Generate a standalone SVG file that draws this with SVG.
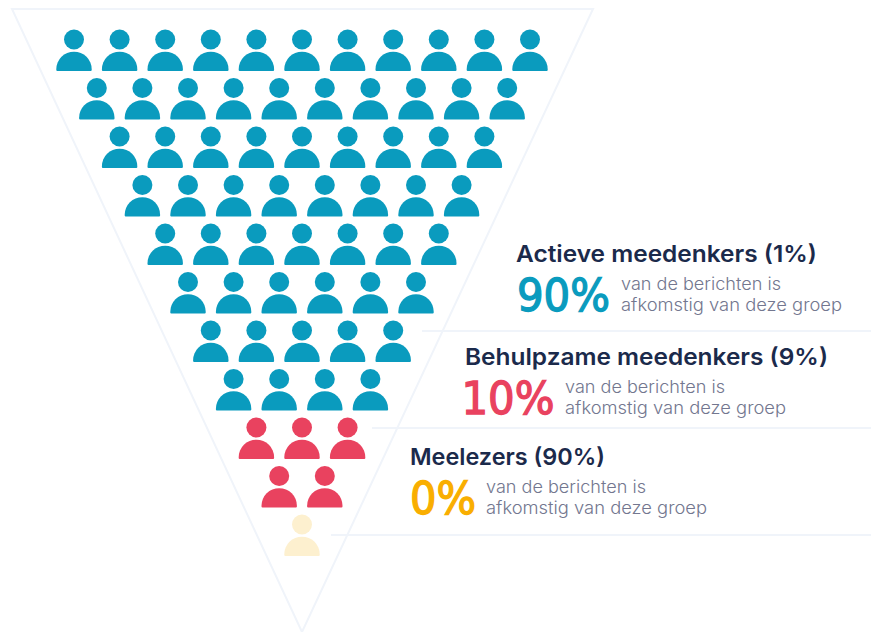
<svg xmlns="http://www.w3.org/2000/svg" width="871" height="632" viewBox="0 0 871 632">
<style>
.title{font-family:"Inter","Liberation Sans",sans-serif;font-size:23px;font-weight:600;fill:#1b2a4b}
.pct{font-family:"DejaVu Sans","Liberation Sans",sans-serif;font-size:44.5px;font-weight:400;stroke-width:1.4}
.sub{font-family:"Inter","Liberation Sans",sans-serif;font-size:17px;font-weight:300;fill:#73778f}
.rule{stroke:#f0f4fa;stroke-width:2;fill:none}
.t{fill:#0a9bbe}.r{fill:#e9425f}.y{fill:#fdf0cf}
</style>
<defs>
<g id="p"><circle cx="0" cy="0" r="10"/><path d="M-17.7 29.7A17.7 17.5 0 0 1 17.7 29.7V30.6Q17.7 31.5 16.7 31.5H-16.7Q-17.7 31.5 -17.7 30.6Z"/></g>
</defs>
<g id="connectors">
<path class="rule" d="M12 9H593L302 632Z"/>
<path class="rule" d="M422 331H871M372 428H871M331 535H871"/>
</g>
<g id="row1" class="t">
<use href="#p" x="74" y="39.5"/><use href="#p" x="119.6" y="39.5"/><use href="#p" x="165.2" y="39.5"/><use href="#p" x="210.8" y="39.5"/><use href="#p" x="256.4" y="39.5"/><use href="#p" x="302" y="39.5"/><use href="#p" x="347.6" y="39.5"/><use href="#p" x="393.2" y="39.5"/><use href="#p" x="438.8" y="39.5"/><use href="#p" x="484.4" y="39.5"/><use href="#p" x="530" y="39.5"/>
</g>
<g id="row2" class="t">
<use href="#p" x="96.8" y="88"/><use href="#p" x="142.4" y="88"/><use href="#p" x="188" y="88"/><use href="#p" x="233.6" y="88"/><use href="#p" x="279.2" y="88"/><use href="#p" x="324.8" y="88"/><use href="#p" x="370.4" y="88"/><use href="#p" x="416" y="88"/><use href="#p" x="461.6" y="88"/><use href="#p" x="507.2" y="88"/>
</g>
<g id="row3" class="t">
<use href="#p" x="119.6" y="136.5"/><use href="#p" x="165.2" y="136.5"/><use href="#p" x="210.8" y="136.5"/><use href="#p" x="256.4" y="136.5"/><use href="#p" x="302" y="136.5"/><use href="#p" x="347.6" y="136.5"/><use href="#p" x="393.2" y="136.5"/><use href="#p" x="438.8" y="136.5"/><use href="#p" x="484.4" y="136.5"/>
</g>
<g id="row4" class="t">
<use href="#p" x="142.4" y="185"/><use href="#p" x="188" y="185"/><use href="#p" x="233.6" y="185"/><use href="#p" x="279.2" y="185"/><use href="#p" x="324.8" y="185"/><use href="#p" x="370.4" y="185"/><use href="#p" x="416" y="185"/><use href="#p" x="461.6" y="185"/>
</g>
<g id="row5" class="t">
<use href="#p" x="165.2" y="233.5"/><use href="#p" x="210.8" y="233.5"/><use href="#p" x="256.4" y="233.5"/><use href="#p" x="302" y="233.5"/><use href="#p" x="347.6" y="233.5"/><use href="#p" x="393.2" y="233.5"/><use href="#p" x="438.8" y="233.5"/>
</g>
<g id="row6" class="t">
<use href="#p" x="188" y="282"/><use href="#p" x="233.6" y="282"/><use href="#p" x="279.2" y="282"/><use href="#p" x="324.8" y="282"/><use href="#p" x="370.4" y="282"/><use href="#p" x="416" y="282"/>
</g>
<g id="row7" class="t">
<use href="#p" x="210.8" y="330.5"/><use href="#p" x="256.4" y="330.5"/><use href="#p" x="302" y="330.5"/><use href="#p" x="347.6" y="330.5"/><use href="#p" x="393.2" y="330.5"/>
</g>
<g id="row8" class="t">
<use href="#p" x="233.6" y="379"/><use href="#p" x="279.2" y="379"/><use href="#p" x="324.8" y="379"/><use href="#p" x="370.4" y="379"/>
</g>
<g id="row9" class="r">
<use href="#p" x="256.4" y="427.5"/><use href="#p" x="302" y="427.5"/><use href="#p" x="347.6" y="427.5"/>
</g>
<g id="row10" class="r">
<use href="#p" x="279.2" y="476"/><use href="#p" x="324.8" y="476"/>
</g>
<g id="row11" class="y">
<use href="#p" x="302" y="524.5"/>
</g>
<g id="label-actief">
<text class="title" x="516" y="262" textLength="301" lengthAdjust="spacingAndGlyphs">Actieve meedenkers (1%)</text>
<text class="pct" x="517" y="311" fill="#0a9bbe" stroke="#0a9bbe" textLength="93" lengthAdjust="spacingAndGlyphs">90%</text>
<text class="sub" x="621" y="289.500" textLength="160" lengthAdjust="spacingAndGlyphs">van de berichten is</text>
<text class="sub" x="621" y="310.500" textLength="221" lengthAdjust="spacingAndGlyphs">afkomstig van deze groep</text>
</g>
<g id="label-behulpzaam">
<text class="title" x="465" y="365" textLength="363" lengthAdjust="spacingAndGlyphs">Behulpzame meedenkers (9%)</text>
<text class="pct" x="461.500" y="414" fill="#e9425f" stroke="#e9425f" textLength="93" lengthAdjust="spacingAndGlyphs">10%</text>
<text class="sub" x="565" y="392.500" textLength="160" lengthAdjust="spacingAndGlyphs">van de berichten is</text>
<text class="sub" x="565" y="413.500" textLength="221" lengthAdjust="spacingAndGlyphs">afkomstig van deze groep</text>
</g>
<g id="label-meelezers">
<text class="title" x="410" y="465" textLength="195" lengthAdjust="spacingAndGlyphs">Meelezers (90%)</text>
<text class="pct" x="410" y="514" fill="#f9ae00" stroke="#f9ae00" textLength="66" lengthAdjust="spacingAndGlyphs">0%</text>
<text class="sub" x="486" y="492.500" textLength="160" lengthAdjust="spacingAndGlyphs">van de berichten is</text>
<text class="sub" x="486" y="513.500" textLength="221" lengthAdjust="spacingAndGlyphs">afkomstig van deze groep</text>
</g>
</svg>
